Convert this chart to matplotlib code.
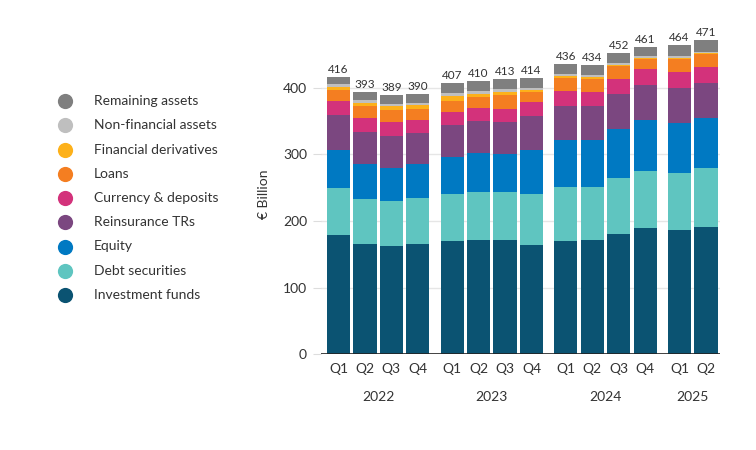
import matplotlib
matplotlib.use("Agg")
import matplotlib.pyplot as plt
import matplotlib.transforms as mtransforms
import numpy as np

plt.rcParams['font.family'] = ['Lato', 'DejaVu Sans']

quarters = ["Q1", "Q2", "Q3", "Q4", "Q1", "Q2", "Q3", "Q4",
            "Q1", "Q2", "Q3", "Q4", "Q1", "Q2"]
years = ["2022", "2023", "2024", "2025"]
year_of_bar = [0, 0, 0, 0, 1, 1, 1, 1, 2, 2, 2, 2, 3, 3]
totals = [416, 393, 389, 390, 407, 410, 413, 414, 436, 434, 452, 461, 464, 471]

# stacked from bottom to top
investment_funds = [179, 165.5, 162.5, 165.5, 170, 171.5, 171.5, 164, 170, 171.5, 180.5, 189.5, 186.5, 191]
debt_securities = [70.5, 67.5, 67.5, 69, 70.5, 72, 72, 76.5, 81, 79.5, 84, 85.5, 85.5, 88.5]
equity = [57.5, 53, 50, 51.5, 55.5, 58.5, 57.5, 66.5, 70.5, 70.5, 73.5, 76.5, 75, 75]
reinsurance = [52, 47.5, 47.5, 46, 48, 48, 48, 50.5, 51, 51, 52.5, 52.5, 52.5, 52.5]
currency_deposits = [21, 21, 21, 19.5, 19.5, 19.5, 19, 21, 22.5, 21, 22.5, 24, 24, 24]
loans = [16.5, 18.5, 18, 16.5, 16.5, 16.5, 21, 15, 19.5, 19.5, 19.5, 15, 19.5, 19.5]
fin_derivatives = [4.5, 4, 6, 6, 7.5, 4.5, 4.5, 3, 3, 3, 1.5, 1.5, 1.5, 1.5]
non_financial = [5, 4.5, 3, 3, 4.5, 4.5, 4.5, 3, 3, 3, 3, 3, 3, 2]
remaining = [10, 11.5, 13.5, 13, 15, 15, 15, 14.5, 15.5, 15, 15, 13.5, 16.5, 17.5]

series = [
    ("Investment funds", investment_funds, "#0b5372"),
    ("Debt securities", debt_securities, "#5fc5c0"),
    ("Equity", equity, "#0079c2"),
    ("Reinsurance TRs", reinsurance, "#7b4780"),
    ("Currency & deposits", currency_deposits, "#d3327b"),
    ("Loans", loans, "#f47e21"),
    ("Financial derivatives", fin_derivatives, "#fdb11a"),
    ("Non-financial assets", non_financial, "#bfbfbf"),
    ("Remaining assets", remaining, "#7f7f7f"),
]

x = np.arange(len(quarters)) + 0.3 * np.array(year_of_bar)

fig = plt.figure(figsize=(7.56, 4.5), dpi=100)
ax = fig.add_axes([321 / 756, 1 - 354.3 / 450, 399 / 756, (354.3 - 34.4) / 450])

bottom = np.zeros(len(quarters))
for name, vals, color in series:
    vals = np.array(vals)
    ax.bar(x, vals, width=0.88, bottom=bottom, color=color, linewidth=0, zorder=2)
    bottom += vals

for xi, top, tot in zip(x, bottom, totals):
    ax.text(xi, top + 3, str(tot), ha='center', va='bottom', fontsize=8.5,
            color='#333333', clip_on=False)

ax.set_xlim(-0.66, 14.43)
ax.set_ylim(0, 480)
ax.set_yticks([0, 100, 200, 300, 400])
ax.grid(axis='y', color='#e6e6e6', linewidth=1, zorder=0)
for s in ['top', 'right', 'left', 'bottom']:
    ax.spines[s].set_visible(False)
ax.axhline(0, color='#222222', linewidth=1.2, zorder=3)
ax.tick_params(axis='y', length=6, color='#dddddd', labelsize=10, labelcolor='#333333', pad=4)
ax.set_xticks(x)
ax.set_xticklabels(quarters)
ax.tick_params(axis='x', length=0, labelsize=10, labelcolor='#333333', pad=6)
ax.set_ylabel("€ Billion", fontsize=10, color='#333333', labelpad=9)

trans = mtransforms.blended_transform_factory(ax.transData, ax.transAxes)
for g, yr in enumerate(years):
    xs = x[np.array(year_of_bar) == g]
    ax.text(xs.mean(), -0.135, yr, transform=trans, ha='center', va='center',
            fontsize=10, color='#333333')

# legend drawn by hand
lax = fig.add_axes([0, 0, 1, 1])
lax.set_xlim(0, 756)
lax.set_ylim(450, 0)
lax.axis('off')
for i, (name, vals, color) in enumerate(series[::-1]):
    yy = 101 + i * 24.25
    lax.scatter([65], [yy], s=120, color=color, linewidths=0)
    lax.text(94, yy, name, va='center', ha='left', fontsize=10, color='#333333')

fig.savefig("out.png", dpi=100)
